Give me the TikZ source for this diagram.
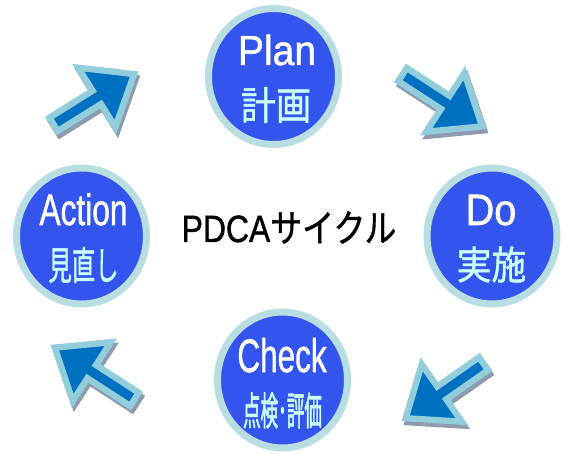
\documentclass[tikz,border=0pt]{standalone}
\usepackage{fontspec}
\usepackage{graphicx}
\setmainfont{Liberation Sans}
\newfontfamily\enfont[FakeBold=1.2]{Liberation Sans}
\newfontfamily\jpfont[FakeBold=1.2]{Noto Sans CJK JP}
\newfontfamily\jpboldfont[FakeBold=2.2]{Noto Sans CJK JP}
\usetikzlibrary{shapes.geometric}
\definecolor{phaseblue}{HTML}{3355EE}
\definecolor{ringblue}{HTML}{B9DEE2}
\definecolor{jptext}{HTML}{CCFFFF}
\definecolor{arrowedge}{HTML}{92CDDC}
\definecolor{arrowcore}{HTML}{0070C0}
\definecolor{arrowshade}{HTML}{8E9BAF}
\tikzset{
  phase/.style={ellipse, fill=phaseblue, draw=ringblue, line width=7pt,
    minimum width=130pt, minimum height=136pt, inner sep=0pt},
  entext/.style={text=white, inner sep=0pt, anchor=base},
  jptxt/.style={text=jptext, inner sep=0pt, anchor=center},
  arrowbody/.style={fill=arrowcore, draw=arrowedge, line width=6.3pt,
    line join=miter, miter limit=10},
  arrowshadow/.style={fill=arrowshade, draw=arrowshade, line width=6.3pt,
    line join=miter, miter limit=10},
}
\newcommand\arrowoutline{(3,-7.85) -- (54,-7.85) -- (54,-35) -- (98,0) -- (54,35) -- (54,7.85) -- (3,7.85) -- cycle}
\newcommand\cyclearrow[3]{%
  \begin{scope}[shift={(#1+2,#2+4)}, rotate=#3]
    \path[arrowshadow] \arrowoutline;
  \end{scope}
  \begin{scope}[shift={(#1,#2)}, rotate=#3]
    \path[arrowbody] \arrowoutline;
  \end{scope}}
\begin{document}
\begin{tikzpicture}[x=1pt, y=-1pt]
\useasboundingbox (0,0) rectangle (565,454);

% phase circles
\node[phase] (plan) at (273.5,76.5) {};
\node[phase] (action) at (81.5,236) {};
\node[phase] (do) at (492,236) {};
\node[phase] (check) at (282.5,380) {};

% labels
\node[entext] (planen) at (277,65) {\scalebox{0.93}[1]{\fontsize{42}{44}\selectfont\enfont Plan}};
\node[jptxt] (planjp) at (276,105) {\scalebox{0.9}[1]{\fontsize{39}{41}\selectfont\jpfont 計画}};
\node[entext] (actionen) at (83.5,225) {\scalebox{0.72}[1]{\fontsize{44}{46}\selectfont\enfont Action}};
\node[jptxt] (actionjp) at (83.5,265) {\scalebox{0.6}[1]{\fontsize{39}{41}\selectfont\jpfont 見直し}};
\node[entext] (doen) at (491,225) {\scalebox{0.9}[1]{\fontsize{44}{46}\selectfont\enfont Do}};
\node[jptxt] (dojp) at (491.5,264.5) {\scalebox{0.89}[1]{\fontsize{39}{41}\selectfont\jpfont 実施}};
\node[entext] (checken) at (282,372) {\scalebox{0.67}[1]{\fontsize{47}{49}\selectfont\enfont Check}};
\node[jptxt] (checkjp) at (282.5,410.5) {\scalebox{0.45}[1]{\fontsize{39}{41}\selectfont\jpboldfont 点検･評価}};

% title
\node[inner sep=0pt, anchor=base] (title) at (289,242) {\scalebox{0.84}[1]{\fontsize{38}{40}\selectfont\enfont PDCA{\jpfont サイクル}}};

% arrows
\cyclearrow{400}{73}{-33}
\cyclearrow{486}{362}{-145}
\cyclearrow{137}{401}{147}
\cyclearrow{51}{126}{32}
\end{tikzpicture}
\end{document}
